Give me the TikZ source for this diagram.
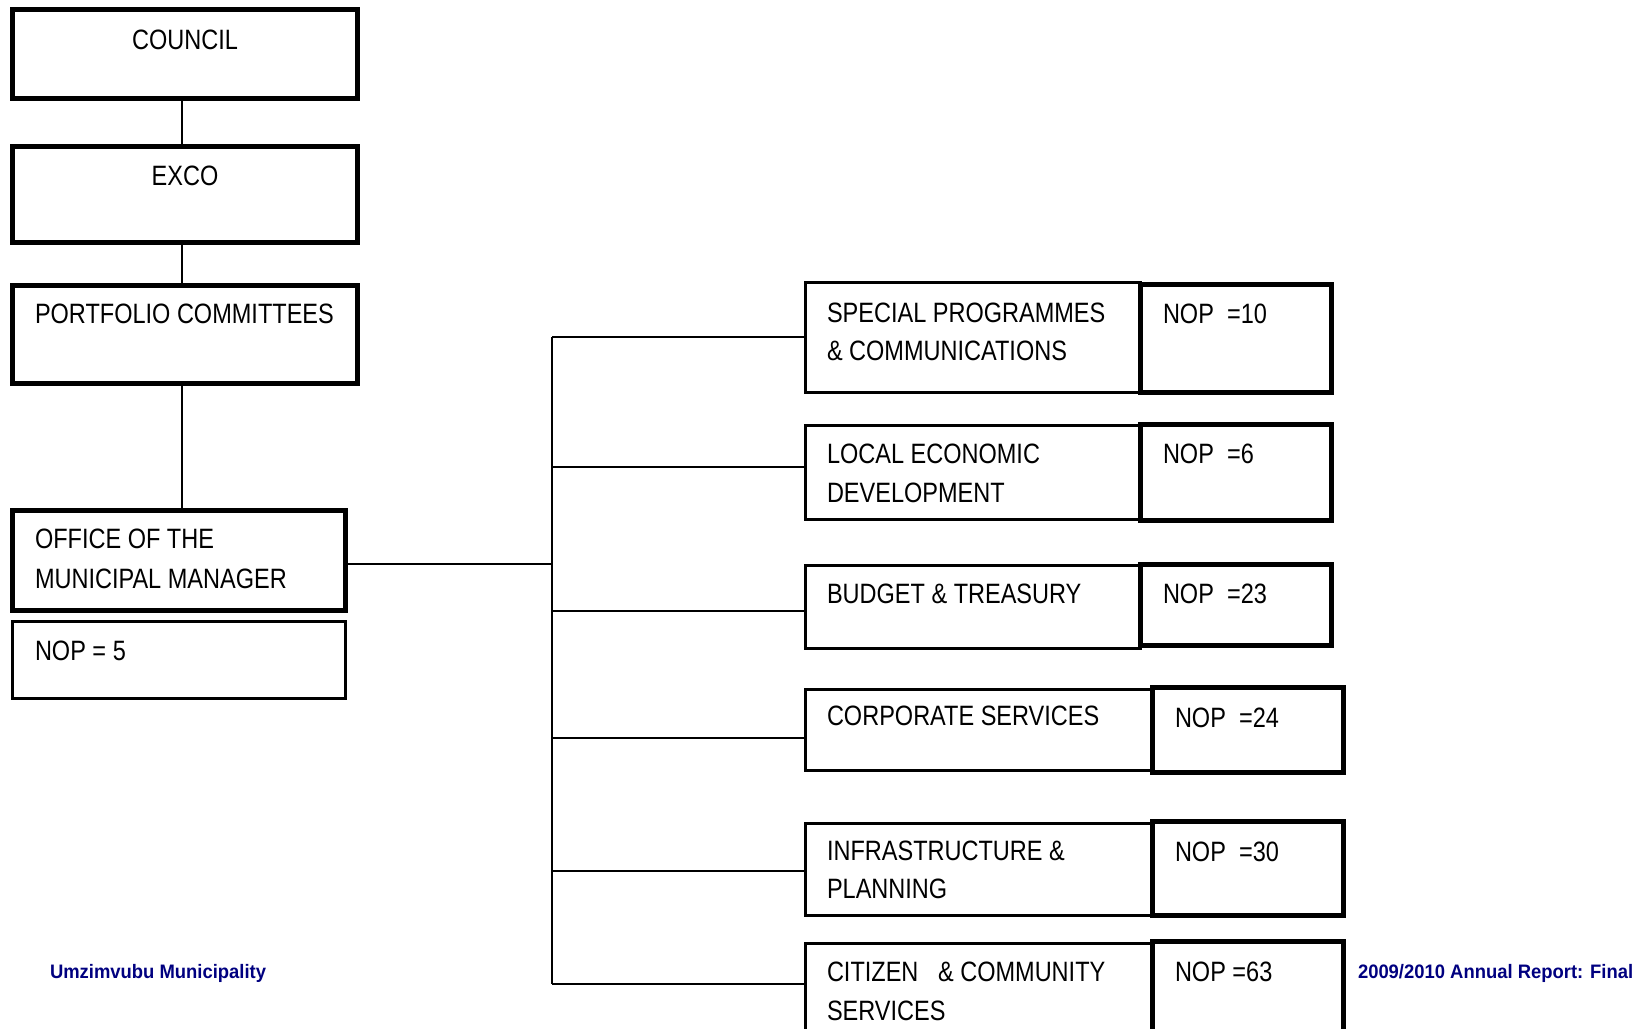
\documentclass[tikz,border=0pt]{standalone}
\usepackage{fontspec}
\setmainfont{Liberation Sans}[FakeStretch=0.84]
\newfontfamily\footfont{Liberation Sans}[FakeStretch=0.945]
\usetikzlibrary{fit}
\definecolor{navyblue}{RGB}{0,0,128}
\begin{document}
\begin{tikzpicture}[x=0.5pt,y=-0.5pt,
  thickbox/.style={draw, line width=2.5pt, inner sep=0pt, outer sep=0pt},
  thinbox/.style={draw, line width=1.5pt, inner sep=0pt, outer sep=0pt},
  conn/.style={line width=0.85pt},
  lbl/.style={inner sep=0pt, outer sep=0pt, anchor=base west, font=\fontsize{14pt}{16pt}\selectfont},
  foot/.style={inner sep=0pt, outer sep=0pt, anchor=base west, text=navyblue, font=\footfont\bfseries\fontsize{9.75pt}{11pt}\selectfont}]
\useasboundingbox (0,0) rectangle (1635,1029);
\fill[white] (0,0) rectangle (1635,1029);
\clip (0,0) rectangle (1635,1029);

% left column boxes
\node[thickbox, fit={(12.5,9.5) (357.5,98.5)}] (council) {};
\node[thickbox, fit={(12.5,146.5) (357.5,242.5)}] (exco) {};
\node[thickbox, fit={(12.5,285.5) (357.5,383.5)}] (port) {};
\node[thickbox, fit={(12.5,510.5) (345.5,610.5)}] (omm) {};
\node[thinbox, fit={(12.5,621.5) (345.5,698.5)}] (nopmm) {};

% department boxes
\node[thinbox, fit={(805.5,282.5) (1140.5,392.5)}] (sp) {};
\node[thinbox, fit={(805.5,425.5) (1140.5,519.5)}] (led) {};
\node[thinbox, fit={(805.5,565.5) (1140.5,648.5)}] (bt) {};
\node[thinbox, fit={(805.5,689.5) (1152.5,770.5)}] (cs) {};
\node[thinbox, fit={(805.5,823.5) (1152.5,915.5)}] (ip) {};
\node[thinbox, fit={(805.5,943.5) (1152.5,1045)}] (ccs) {};

% NOP boxes
\node[thickbox, fit={(1140.5,284.5) (1331.5,392.5)}] (spn) {};
\node[thickbox, fit={(1140.5,424.5) (1331.5,520.5)}] (ledn) {};
\node[thickbox, fit={(1140.5,564.5) (1331.5,645.5)}] (btn) {};
\node[thickbox, fit={(1152.5,687.5) (1343.5,772.5)}] (csn) {};
\node[thickbox, fit={(1152.5,821.5) (1343.5,915.5)}] (ipn) {};
\node[thickbox, fit={(1152.5,941.5) (1343.5,1045)}] (ccsn) {};

% connectors
\coordinate (cx) at (182,0);
\draw[conn] (council.south -| cx) -- (exco.north -| cx);
\draw[conn] (exco.south -| cx) -- (port.north -| cx);
\draw[conn] (port.south -| cx) -- (omm.north -| cx);
\coordinate (jmm) at (552,564);
\coordinate (b1) at (552,337);
\coordinate (b2) at (552,467);
\coordinate (b3) at (552,611);
\coordinate (b4) at (552,738);
\coordinate (b5) at (552,871);
\coordinate (b6) at (552,984);
\draw[conn] (omm.east |- jmm) -- (jmm);
\draw[conn] (b1) -- (b6);
\draw[conn] (b1) -- (b1 -| sp.west);
\draw[conn] (b2) -- (b2 -| led.west);
\draw[conn] (b3) -- (b3 -| bt.west);
\draw[conn] (b4) -- (b4 -| cs.west);
\draw[conn] (b5) -- (b5 -| ip.west);
\draw[conn] (b6) -- (b6 -| ccs.west);

% texts left
\node[lbl, anchor=base] (tcouncil) at (185,49) {COUNCIL};
\node[lbl, anchor=base] (texco) at (185,185) {EXCO};
\node[lbl] (tport) at (35,323) {PORTFOLIO COMMITTEES};
\node[lbl] (tomm1) at (35,548) {OFFICE OF THE};
\node[lbl] (tomm2) at (35,588) {MUNICIPAL MANAGER};
\node[lbl] (tnopmm) at (35,660) {NOP = 5};

% texts departments
\node[lbl] (tsp1) at (827,322) {SPECIAL PROGRAMMES};
\node[lbl] (tsp2) at (827,360) {\& COMMUNICATIONS};
\node[lbl] (tled1) at (827,463) {LOCAL ECONOMIC};
\node[lbl] (tled2) at (827,502) {DEVELOPMENT};
\node[lbl] (tbt) at (827,603) {BUDGET \& TREASURY};
\node[lbl] (tcs) at (827,725) {CORPORATE SERVICES};
\node[lbl] (tip1) at (827,860) {INFRASTRUCTURE \&};
\node[lbl] (tip2) at (827,898) {PLANNING};
\node[lbl] (tccs1) at (827,981) {CITIZEN\ \ \ \& COMMUNITY};
\node[lbl] (tccs2) at (827,1020) {SERVICES};

% NOP texts
\node[lbl] (tspn) at (1163,323) {NOP\ \ =10};
\node[lbl] (tledn) at (1163,463) {NOP\ \ =6};
\node[lbl] (tbtn) at (1163,603) {NOP\ \ =23};
\node[lbl] (tcsn) at (1175,727) {NOP\ \ =24};
\node[lbl] (tipn) at (1175,861) {NOP\ \ =30};
\node[lbl] (tccsn) at (1175,981) {NOP =63};

% footer
\node[foot] (fleft) at (50,978) {Umzimvubu Municipality};
\node[foot] (fright) at (1358,978) {2009/2010 Annual Report: Final};
\end{tikzpicture}
\end{document}
